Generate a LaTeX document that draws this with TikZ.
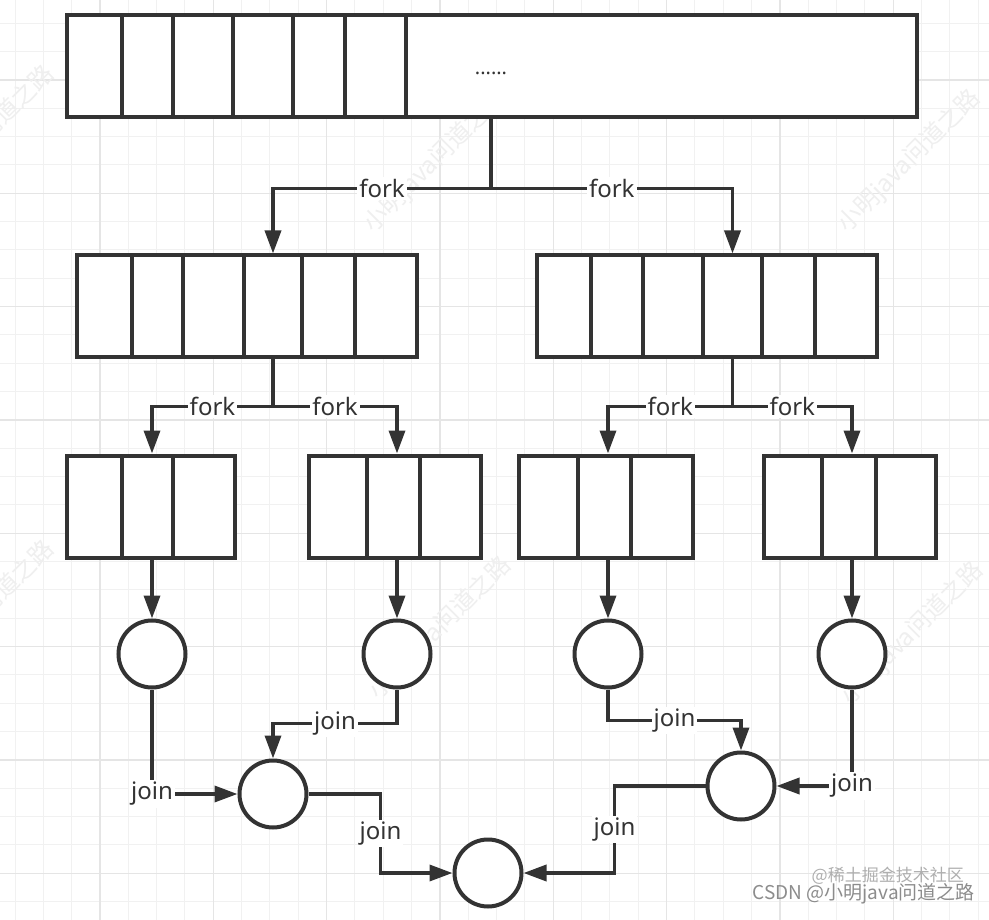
\documentclass[tikz,border=0pt]{standalone}
\usepackage{fontspec}
\setmainfont{Noto Sans}
\newfontfamily\cjk{Noto Sans CJK SC}
\usetikzlibrary{arrows.meta,calc}
\definecolor{inkcol}    {RGB}{ 51, 51, 51}
\definecolor{gridminor} {RGB}{241,241,241}
\definecolor{gridmajor} {RGB}{229,229,229}
\definecolor{markcol}   {RGB}{239,239,239}
\definecolor{signlight} {RGB}{175,175,175}
\definecolor{signdark}  {RGB}{140,140,140}
\tikzset{
  %% one slot of a task queue
  cell/.style={
    draw=inkcol, fill=white, line width=4pt,
    inner sep=0pt, minimum height=102pt
  },
  %% one sub-result
  task/.style={
    circle, draw=inkcol, fill=white, line width=4pt,
    inner sep=0pt, minimum size=67pt
  },
  flow/.style={
    draw=inkcol, line width=3.5pt,
    -{Triangle[length=23pt,width=16pt]}
  },
  lbl/.style={
    fill=white, inner sep=2pt, text=inkcol,
    font=\fontsize{24}{28}\selectfont
  },
  minorline/.style={draw=gridminor, line width=1pt},
  majorline/.style={draw=gridmajor, line width=1.2pt},
  wmark/.style={
    text=markcol, rotate=45, inner sep=0pt,
    font=\cjk\fontsize{24}{24}\selectfont
  },
  sign/.style={inner sep=0pt, anchor=east},
}

%% ── a row of queue slots: name, centre y, list of left/right edges ──
\newcommand{\cellrow}[3]{%
  \foreach \a/\b [count=\i] in {#3}{
    \node[cell, minimum width={\b-\a}] (#1-\i) at ({(\a+\b)/2},#2) {};
  }%
}

\begin{document}
\begin{tikzpicture}[x=1pt, y=-1pt, line cap=butt, line join=miter]

  %% ── Canvas and grid ───────────────────────────────────────────────────
  \useasboundingbox (0,0) rectangle (989,920);
  \clip (0,0) rectangle (989,920);
  \fill[white] (0,0) rectangle (989,920);

  \foreach \k in {-1,...,34}{
    \draw[minorline] ({15+28.333*\k},0) -- ({15+28.333*\k},920);
  }
  \foreach \k in {-1,...,32}{
    \draw[minorline] (0,{23.3+28.333*\k}) -- (989,{23.3+28.333*\k});
  }
  \foreach \k in {0,...,7}{
    \draw[majorline] ({100+113.333*\k},0) -- ({100+113.333*\k},920);
    \draw[majorline] (0,{80+113.333*\k}) -- (989,{80+113.333*\k});
  }

  %% Watermarks
  \node[wmark] (wm1) at (435,161) {小明java问道之路};
  \node[wmark] (wm2) at (909,161) {小明java问道之路};
  \node[wmark] (wm3) at (440,628) {小明java问道之路};
  \node[wmark] (wm4) at (912,633) {小明java问道之路};
  \node[wmark] (wm5) at (-17,137) {小明java问道之路};
  \node[wmark] (wm6) at (-17,612) {小明java问道之路};

  %% ══════════════════════════════════════════════════════════════════════
  %%  QUEUES
  %% ══════════════════════════════════════════════════════════════════════
  \cellrow{top}{66.5}{67/122,122/173,173/233,233/293,293/345,345/406,406/917}
  \node[font=\fontsize{20}{22}\selectfont, text=inkcol] (more) at (491,73) {......};

  \cellrow{ml}{306.5}{77/132,132/183,183/244,244/302,302/355,355/417}
  \cellrow{mr}{306.5}{537/591,591/643,643/703,703/762,762/815,815/877}

  \cellrow{qa}{506.5}{67/122,122/173,173/235}
  \cellrow{qb}{506.5}{309/367,367/420,420/481}
  \cellrow{qc}{506.5}{519/578,578/631,631/693}
  \cellrow{qd}{506.5}{764/822,822/876,876/936}

  %% ── Results ───────────────────────────────────────────────────────────
  \node[task] (c1) at (152,654) {};
  \node[task] (c2) at (397,654) {};
  \node[task] (c3) at (608,654) {};
  \node[task] (c4) at (852,654) {};
  \node[task] (c5) at (273,794) {};
  \node[task] (c6) at (741,786) {};
  \node[task] (c7) at (488,873) {};

  %% ══════════════════════════════════════════════════════════════════════
  %%  FORK
  %% ══════════════════════════════════════════════════════════════════════
  \draw[flow] (top-7.south -| more) -- ++(0,69) -| (ml-4.north)
        node[lbl, pos=0.25] {fork};
  \draw[flow] (top-7.south -| more) -- ++(0,69) -| (mr-4.north)
        node[lbl, pos=0.25] {fork};

  \draw[flow] (ml-4.south) -- ++(0,47) -| (qa-2.north -| c1)
        node[lbl, pos=0.25] {fork};
  \draw[flow] (ml-4.south) -- ++(0,47) -| (qb-2.north -| c2)
        node[lbl, pos=0.25] {fork};
  \draw[flow] (mr-4.south) -- ++(0,47) -| (qc-2.north -| c3)
        node[lbl, pos=0.25] {fork};
  \draw[flow] (mr-4.south) -- ++(0,47) -| (qd-2.north -| c4)
        node[lbl, pos=0.25] {fork};

  %% queue -> result
  \draw[flow] (qa-2.south -| c1) -- (c1);
  \draw[flow] (qb-2.south -| c2) -- (c2);
  \draw[flow] (qc-2.south -| c3) -- (c3);
  \draw[flow] (qd-2.south -| c4) -- (c4);

  %% ══════════════════════════════════════════════════════════════════════
  %%  JOIN
  %% ══════════════════════════════════════════════════════════════════════
  \draw[flow] (c1) |- (c5) node[lbl, pos=0.5] {join};
  \draw[flow] (c2.south) -- ++(0,34) -| (c5) node[lbl, pos=0.25] {join};
  \draw[flow] (c5) -| ($(c5.east)!0.5!(c7.west)$) node[lbl] {join} |- (c7);

  \draw[flow] (c3.south) -- ++(0,31) -| (c6) node[lbl, pos=0.25] {join};
  \draw[flow] (c4) |- (c6) node[lbl, pos=0.5] {join};
  \draw[flow] (c6) -| ($(c6.west)!0.5!(c7.east)$) node[lbl] {join} |- (c7);

  %% Corner sign
  \node[sign, text=signlight, font=\cjk\fontsize{17}{17}\selectfont]
        (sign1) at (964,876) {@稀土掘金技术社区};
  \node[sign, text=signdark, font=\cjk\fontsize{19}{19}\selectfont]
        (sign2) at (975,894) {CSDN @小明java问道之路};

\end{tikzpicture}
\end{document}
